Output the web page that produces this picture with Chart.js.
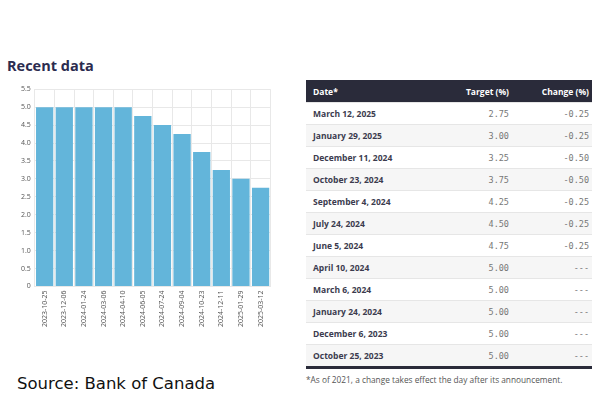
<!DOCTYPE html>
<html>
<head>
<meta charset="utf-8">
<script src="https://cdn.jsdelivr.net/npm/chart.js@4"></script>
<style>
  body { margin: 0; width: 600px; height: 400px; background: #fff; position: relative; overflow: hidden; font-family: "Open Sans", sans-serif; }
  #title { position: absolute; left: 7px; top: 56px; font-size: 14.5px; font-weight: bold; color: #2b2c4f; }
  #chartBox { position: absolute; left: 3px; top: 81px; width: 270px; height: 250px; }
  #source { position: absolute; left: 17px; top: 374px; font-family: "DejaVu Sans", sans-serif; font-size: 16.5px; color: #111; }
  #rateTable { position: absolute; left: 306px; top: 80px; width: 286px; border-collapse: collapse; table-layout: fixed; font-size: 8.5px; }
  #rateTable th { background: #2a2b3a; color: #fff; height: 22px; padding: 0 3px 0 7px; font-weight: bold; }
  #rateTable td { height: 21px; padding: 0 3px 0 7px; border-top: 1px solid #e6e6e6; }
  #rateTable tr:nth-child(even) td { background: #f6f6f6; }
  #rateTable tbody tr:last-child td { border-bottom: 3px solid #2a2b3a; }
  #rateTable td.date { font-weight: bold; color: #3b3b4e; }
  #rateTable td.num { font-family: "DejaVu Sans Mono", monospace; color: #777; text-align: right; font-size: 8.5px; }
  #note { position: absolute; left: 306px; top: 374px; font-size: 8.3px; color: #555; }
</style>
</head>
<body>
<div id="title">Recent data</div>
<div id="chartBox"><canvas id="rateChart"></canvas></div>
<div id="source">Source: Bank of Canada</div>
<table id="rateTable">
  <colgroup><col style="width:124px"><col style="width:82px"><col style="width:80px"></colgroup>
  <thead><tr><th style="text-align:left">Date*</th><th style="text-align:right">Target (%)</th><th style="text-align:right">Change (%)</th></tr></thead>
  <tbody id="rateBody"></tbody>
</table>
<div id="note">*As of 2021, a change takes effect the day after its announcement.</div>
<script>
// chart categories and values (oldest first)
const dates = ['2023-10-25','2023-12-06','2024-01-24','2024-03-06','2024-04-10','2024-06-05','2024-07-24','2024-09-04','2024-10-23','2024-12-11','2025-01-29','2025-03-12'];
const targetRates = [5.00, 5.00, 5.00, 5.00, 5.00, 4.75, 4.50, 4.25, 3.75, 3.25, 3.00, 2.75];

// table rows (newest first)
const tableDates = ['March 12, 2025','January 29, 2025','December 11, 2024','October 23, 2024','September 4, 2024','July 24, 2024','June 5, 2024','April 10, 2024','March 6, 2024','January 24, 2024','December 6, 2023','October 25, 2023'];
const tableTargets = ['2.75','3.00','3.25','3.75','4.25','4.50','4.75','5.00','5.00','5.00','5.00','5.00'];
const tableChanges = ['-0.25','-0.25','-0.50','-0.50','-0.25','-0.25','-0.25','---','---','---','---','---'];

const body = document.getElementById('rateBody');
tableDates.forEach(function(d, i) {
    const tr = document.createElement('tr');
    tr.innerHTML = '<td class="date">' + d + '</td><td class="num">' + tableTargets[i] + '</td><td class="num">' + tableChanges[i] + '</td>';
    body.appendChild(tr);
});

const ctx = document.getElementById('rateChart').getContext('2d');
new Chart(ctx, {
    type: 'bar',
    data: {
        labels: dates,
        datasets: [{
            data: targetRates,
            backgroundColor: '#63b5da',
            borderWidth: 0,
            barPercentage: 0.88,
            categoryPercentage: 1.0
        }]
    },
    options: {
        responsive: true,
        maintainAspectRatio: false,
        animation: false,
        layout: { padding: { left: 14 } },
        plugins: { legend: { display: false }, tooltip: { enabled: false } },
        scales: {
            x: {
                grid: { color: '#e8e8e8', drawTicks: false },
                border: { color: '#e8e8e8' },
                ticks: { color: '#555', font: { size: 7, family: 'Open Sans' }, maxRotation: 90, minRotation: 90, padding: 4 }
            },
            y: {
                min: 0,
                max: 5.5,
                grid: { color: '#e8e8e8', drawTicks: false },
                border: { color: '#e8e8e8' },
                ticks: {
                    stepSize: 0.5,
                    color: '#555',
                    font: { size: 7, family: 'Open Sans' },
                    padding: 4,
                    callback: function(v) { return v === 0 ? '0' : v.toFixed(1); }
                }
            }
        }
    }
});
</script>
</body>
</html>
